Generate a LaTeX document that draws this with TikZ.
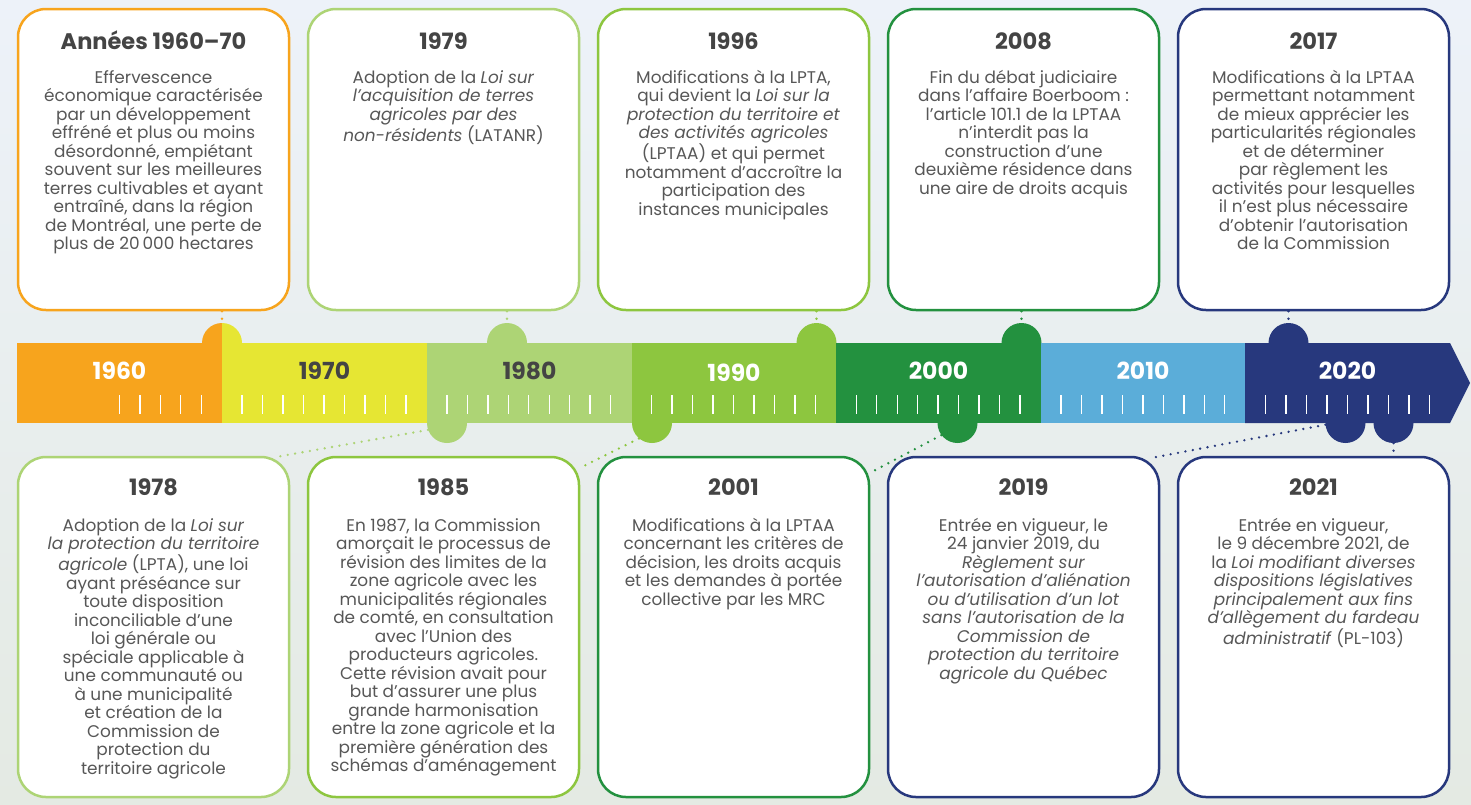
\documentclass[tikz,border=0pt]{standalone}
\usepackage{fontspec}
\setmainfont{Poppins}
\usetikzlibrary{calc}
\pgfdeclarelayer{bg}
\pgfsetlayers{bg,main}
\definecolor{cA}{HTML}{F7A41D}
\definecolor{cB}{HTML}{E6E633}
\definecolor{cC}{HTML}{ADD475}
\definecolor{cD}{HTML}{8DC63F}
\definecolor{cE}{HTML}{23913F}
\definecolor{cF}{HTML}{5BADD9}
\definecolor{cG}{HTML}{27387D}
\definecolor{txt}{HTML}{575757}
\definecolor{ttlc}{HTML}{444444}
\definecolor{bgtop}{HTML}{EDF2F9}
\definecolor{bgmid}{HTML}{F1F5F9}
\definecolor{bgbot}{HTML}{E4EAE3}
\newcommand{\evbody}[1]{\parbox[t]{268pt}{\centering\fontsize{16.9}{18.5}\selectfont #1}}
\begin{document}
\begin{tikzpicture}[x=1pt,y=-1pt,
  evbox/.style={draw=#1, line width=2.5pt, fill=white, rounded corners=28pt,
    shape=rectangle, minimum width=271pt, inner sep=0pt},
  toprow/.style={minimum height=301pt},
  botrow/.style={minimum height=340pt},
  ttl/.style={anchor=base, text=ttlc, inner sep=0pt, font=\fontsize{22.5}{26}\selectfont\bfseries},
  bdy/.style={anchor=base, text=txt, inner sep=0pt},
  dotc/.style={draw=#1, line width=2.6pt, line cap=round, dash pattern=on 0pt off 7.5pt},
  bump/.style={circle, minimum size=40pt, inner sep=0pt, fill=#1, draw=none},
  yr/.style={anchor=base, inner sep=0pt, font=\fontsize{23.5}{27}\selectfont\bfseries},
  tickline/.style={draw=white, line width=1.4pt}
]
\useasboundingbox (0,0) rectangle (1471,804);
\begin{pgfonlayer}{bg}
  \shade[top color=bgtop, middle color=bgmid, bottom color=bgbot] (0,0) rectangle (1471,804);
\end{pgfonlayer}

% ---------- top row boxes ----------
\node[evbox=cA, toprow] (box6070) at (153.5,159.5) {};
\node[ttl] (t6070) at (153.5,49) {Années 1960–70};
\node[bdy] (d6070) at (153.5,83) {\evbody{Effervescence\\
économique caractérisée\\
par un développement\\
effréné et plus ou moins\\
désordonné, empiétant\\
souvent sur les meilleures\\
terres cultivables et ayant\\
entraîné, dans la région\\
de Montréal, une perte de\\
plus de 20\,000 hectares}};

\node[evbox=cC, toprow] (box1979) at (443.5,159.5) {};
\node[ttl] (t1979) at (443.5,49) {1979};
\node[bdy] (d1979) at (443.5,83) {\evbody{Adoption de la \textit{Loi sur}\\
\textit{l’acquisition de terres}\\
\textit{agricoles par des}\\
\textit{non-résidents} (LATANR)}};

\node[evbox=cD, toprow] (box1996) at (733.5,159.5) {};
\node[ttl] (t1996) at (733.5,49) {1996};
\node[bdy] (d1996) at (733.5,83) {\evbody{Modifications à la LPTA,\\
qui devient la \textit{Loi sur la}\\
\textit{protection du territoire et}\\
\textit{des activités agricoles}\\
(LPTAA) et qui permet\\
notamment d’accroître la\\
participation des\\
instances municipales}};

\node[evbox=cE, toprow] (box2008) at (1023.5,159.5) {};
\node[ttl] (t2008) at (1023.5,49) {2008};
\node[bdy] (d2008) at (1023.5,83) {\evbody{Fin du débat judiciaire\\
dans l’affaire Boerboom~:\\
l’article 101.1 de la LPTAA\\
n’interdit pas la\\
construction d’une\\
deuxième résidence dans\\
une aire de droits acquis}};

\node[evbox=cG, toprow] (box2017) at (1313.5,159.5) {};
\node[ttl] (t2017) at (1313.5,49) {2017};
\node[bdy] (d2017) at (1313.5,83) {\evbody{Modifications à la LPTAA\\
permettant notamment\\
de mieux apprécier les\\
particularités régionales\\
et de déterminer\\
par règlement les\\
activités pour lesquelles\\
il n’est plus nécessaire\\
d’obtenir l’autorisation\\
de la Commission}};

% ---------- bottom row boxes ----------
\node[evbox=cC, botrow] (box1978) at (153.5,627) {};
\node[ttl] (t1978) at (153.5,495) {1978};
\node[bdy] (d1978) at (153.5,531) {\evbody{Adoption de la \textit{Loi sur}\\
\textit{la protection du territoire}\\
\textit{agricole} (LPTA), une loi\\
ayant préséance sur\\
toute disposition\\
inconciliable d’une\\
loi générale ou\\
spéciale applicable à\\
une communauté ou\\
à une municipalité\\
et création de la\\
Commission de\\
protection du\\
territoire agricole}};

\node[evbox=cD, botrow] (box1985) at (443.5,627) {};
\node[ttl] (t1985) at (443.5,495) {1985};
\node[bdy] (d1985) at (443.5,531) {\evbody{En 1987, la Commission\\
amorçait le processus de\\
révision des limites de la\\
zone agricole avec les\\
municipalités régionales\\
de comté, en consultation\\
avec l’Union des\\
producteurs agricoles.\\
Cette révision avait pour\\
but d’assurer une plus\\
grande harmonisation\\
entre la zone agricole et la\\
première génération des\\
schémas d’aménagement}};

\node[evbox=cE, botrow] (box2001) at (733.5,627) {};
\node[ttl] (t2001) at (733.5,495) {2001};
\node[bdy] (d2001) at (733.5,531) {\evbody{Modifications à la LPTAA\\
concernant les critères de\\
décision, les droits acquis\\
et les demandes à portée\\
collective par les MRC}};

\node[evbox=cG, botrow] (box2019) at (1023.5,627) {};
\node[ttl] (t2019) at (1023.5,495) {2019};
\node[bdy] (d2019) at (1023.5,531) {\evbody{Entrée en vigueur, le\\
24 janvier 2019, du\\
\textit{Règlement sur}\\
\textit{l’autorisation d’aliénation}\\
\textit{ou d’utilisation d’un lot}\\
\textit{sans l’autorisation de la}\\
\textit{Commission de}\\
\textit{protection du territoire}\\
\textit{agricole du Québec}}};

\node[evbox=cG, botrow] (box2021) at (1313.5,627) {};
\node[ttl] (t2021) at (1313.5,495) {2021};
\node[bdy] (d2021) at (1313.5,531) {\evbody{Entrée en vigueur,\\
le 9 décembre 2021, de\\
la \textit{Loi modifiant diverses}\\
\textit{dispositions législatives}\\
\textit{principalement aux fins}\\
\textit{d’allègement du fardeau}\\
\textit{administratif} (PL-103)}};

% ---------- bumps ----------
\coordinate (b6070) at (222,343);
\begin{scope}
  \clip (200,318) rectangle (222,343);
  \fill[cA] (b6070) circle[radius=20pt];
\end{scope}
\begin{scope}
  \clip (222,318) rectangle (244,343);
  \fill[cB] (b6070) circle[radius=20pt];
\end{scope}
\node[bump=cC] (b1979) at (507,343) {};
\node[bump=cD] (b1996) at (816.5,343) {};
\node[bump=cE] (b2008) at (1021.5,343) {};
\node[bump=cG] (b2017) at (1288.5,343) {};
\node[bump=cC] (b1978) at (447,423) {};
\node[bump=cD] (b1985) at (652,423) {};
\node[bump=cE] (b2001) at (957.5,423) {};
\node[bump=cG] (b2019) at (1345.5,423) {};
\node[bump=cG] (b2021) at (1393.5,423) {};

% ---------- bar ----------
\fill[cA] (17,343) rectangle (222,423);
\fill[cB] (222,343) rectangle (427,423);
\fill[cC] (427,343) rectangle (632,423);
\fill[cD] (632,343) rectangle (836,423);
\fill[cE] (836,343) rectangle (1041,423);
\fill[cF] (1041,343) rectangle (1245,423);
\fill[cG] (1245,343) -- (1450,343) -- (1470,383) -- (1450,423) -- (1245,423) -- cycle;

\foreach \d in {0,...,6}{
  \foreach \k in {1,...,9}{
    \pgfmathtruncatemacro{\skipit}{(\d==0 && \k<5) ? 1 : 0}
    \ifnum\skipit=0
      \pgfmathsetmacro{\xx}{17+20.47*(10*\d+\k)}
      \draw[tickline] (\xx,395) -- (\xx,414);
    \fi
  }
}

\node[yr, text=white] (y1960) at (119.5,379) {1960};
\node[yr, text=ttlc] (y1970) at (324.5,379) {1970};
\node[yr, text=ttlc] (y1980) at (529.5,379) {1980};
\node[yr, text=white] (y1990) at (734,381) {1990};
\node[yr, text=white] (y2000) at (938.5,379) {2000};
\node[yr, text=white] (y2010) at (1143,379) {2010};
\node[yr, text=white] (y2020) at (1347.5,379) {2020};

% ---------- connectors ----------
\begin{pgfonlayer}{bg}
  \draw[dotc=cA] (b6070 |- box6070.south) -- ($(b6070)+(0,-21)$);
  \draw[dotc=cC] (b1979.north |- box1979.south) -- (b1979.north);
  \draw[dotc=cD] (b1996.north |- box1996.south) -- (b1996.north);
  \draw[dotc=cE] (b2008.north |- box2008.south) -- (b2008.north);
  \draw[dotc=cG] (b2017.north |- box2017.south) -- (b2017.north);
  \draw[dotc=cC] (b1978.200) -- ([xshift=-13pt,yshift=-1pt]box1978.north east);
  \draw[dotc=cD] (b1985.230) -- ([yshift=-12pt]box1985.north east);
  \draw[dotc=cE] (b2001.217) -- ([yshift=-17pt]box2001.north east);
  \draw[dotc=cG] (b2019.185) -- ([xshift=-8pt,yshift=-2pt]box2019.north east);
  \draw[dotc=cG] (b2021.south) -- (b2021.south |- box2021.north);
\end{pgfonlayer}
\end{tikzpicture}
\end{document}
